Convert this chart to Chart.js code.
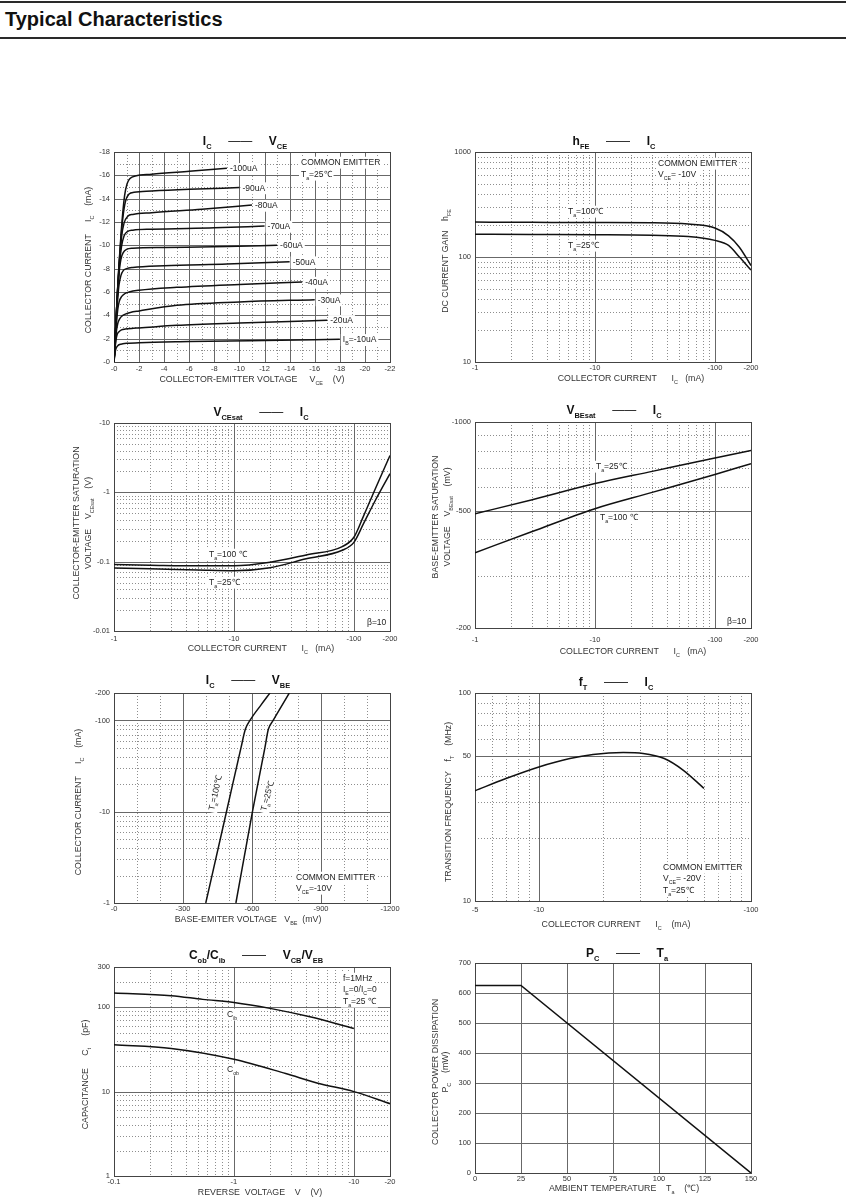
<!DOCTYPE html>
<html>
<head>
<meta charset="utf-8">
<script src="https://cdn.jsdelivr.net/npm/chart.js@4.4.1/dist/chart.umd.min.js"></script>
<style>
  body { margin: 0; background: #fff; width: 846px; height: 1200px; position: relative; overflow: hidden;
         font-family: "Liberation Sans", Arial, sans-serif; }
  .rule { position: absolute; left: 0; width: 846px; height: 2px; background: #2a2a2a; }
  #head { position: absolute; left: 5px; top: 7px; font-weight: bold; font-size: 20px; line-height: 24px; color: #111; }
  .cell { position: absolute; }
</style>
</head>
<body>
<div class="rule" style="top:1px"></div>
<div id="head">Typical Characteristics</div>
<div class="rule" style="top:37px"></div>
<script>
// ---- data (magnitudes; axes print the minus sign) ----

// IC - VCE, one curve per base current
const ibNames = ['-100uA', '-90uA', '-80uA', '-70uA', '-60uA', '-50uA', '-40uA', '-30uA', '-20uA', 'I_{B}=-10uA'];
const vceV = [
  [0, 0.1, 0.2, 0.3, 0.4, 0.55, 0.7, 0.85, 1.05, 1.3, 1.7, 3, 6, 9],
  [0, 0.1, 0.2, 0.3, 0.4, 0.55, 0.7, 0.9, 1.2, 1.6, 3, 6, 10],
  [0, 0.1, 0.2, 0.3, 0.45, 0.6, 0.8, 1.1, 1.5, 3, 7, 11],
  [0, 0.1, 0.2, 0.3, 0.45, 0.6, 0.8, 1.1, 1.5, 3, 8, 12],
  [0, 0.1, 0.2, 0.3, 0.42, 0.55, 0.75, 1.0, 1.5, 4, 9, 13],
  [0, 0.1, 0.2, 0.3, 0.4, 0.55, 0.75, 1.0, 1.5, 4, 9, 14],
  [0, 0.1, 0.2, 0.3, 0.42, 0.6, 0.85, 1.2, 2, 5, 10, 15],
  [0, 0.1, 0.2, 0.3, 0.45, 0.65, 0.9, 1.3, 2, 5, 10, 16],
  [0, 0.08, 0.16, 0.25, 0.4, 0.6, 0.9, 1.4, 2, 5, 10, 17],
  [0, 0.06, 0.12, 0.2, 0.3, 0.45, 0.7, 1.0, 2, 6, 12, 18]
];
const vceI = [
  [0, 2.2, 4.4, 6.5, 8.4, 10.8, 12.8, 14.3, 15.3, 15.75, 15.95, 16.1, 16.35, 16.6],
  [0, 2.2, 4.4, 6.5, 8.3, 10.5, 12.3, 13.7, 14.4, 14.55, 14.65, 14.8, 14.95],
  [0, 2.2, 4.4, 6.4, 8.8, 10.7, 11.9, 12.5, 12.65, 12.8, 13.1, 13.45],
  [0, 2.2, 4.3, 6.3, 8.5, 9.9, 10.8, 11.2, 11.3, 11.38, 11.5, 11.65],
  [0, 2.1, 4.2, 6.0, 7.8, 8.8, 9.4, 9.65, 9.75, 9.82, 9.9, 10.0],
  [0, 2.0, 3.9, 5.5, 6.6, 7.4, 7.85, 8.0, 8.1, 8.25, 8.4, 8.6],
  [0, 1.8, 3.4, 4.5, 5.2, 5.6, 5.85, 6.0, 6.15, 6.4, 6.65, 6.85],
  [0, 1.5, 2.7, 3.3, 3.7, 3.95, 4.1, 4.25, 4.38, 4.86, 5.15, 5.34],
  [0, 1.1, 1.9, 2.35, 2.6, 2.75, 2.82, 2.88, 2.92, 3.14, 3.34, 3.57],
  [0, 0.6, 1.0, 1.25, 1.4, 1.5, 1.56, 1.6, 1.66, 1.75, 1.85, 1.94]
];

// hFE - IC
const hfeIc = [1, 3, 10, 30, 60, 100, 130, 160, 200];
const hfe100 = [215, 214, 213, 212, 206, 189, 159, 124, 83];
const hfe25 = [165, 164, 163, 161, 157, 144, 129, 100, 75];

// VCEsat - IC (V)
const satIc = [1, 2, 5, 10, 20, 40, 80, 100, 120, 150, 200];
const vceSat100 = [0.091, 0.089, 0.087, 0.087, 0.098, 0.125, 0.165, 0.225, 0.45, 1.1, 3.4];
const vceSat25 = [0.081, 0.079, 0.076, 0.074, 0.082, 0.110, 0.146, 0.19, 0.35, 0.75, 1.86];

// VBEsat - IC (mV)
const vbeIc = [1, 3, 10, 30, 100, 200];
const vbeSat25 = [488, 545, 618, 680, 755, 800];
const vbeSat100 = [360, 425, 508, 577, 664, 722];

// IC - VBE
const onIc = [1, 10, 50, 80, 100, 150, 200];
const onVbe100 = [399, 489, 552, 571, 591, 641, 678];
const onVbe25 = [530, 602, 656, 671, 692, 733, 762];

// fT - IC
const ftIc = [5, 7, 10, 14, 18, 25, 31, 39, 48, 60];
const ftMhz = [33.9, 38.8, 44.1, 48.4, 50.6, 51.7, 51.2, 48.4, 42.5, 34.8];

// Cib / Cob - reverse voltage
const cibV = [0.1, 0.3, 0.55, 1, 2, 4.3, 10];
const cibPf = [148, 137, 124, 114, 97, 77, 56];
const cobV = [0.1, 0.3, 1, 2.7, 5, 10, 20];
const cobPf = [36, 32.5, 24.2, 16.4, 12.6, 10, 7.2];

// PC - Ta derating
const pcTa = [0, 25, 150];
const pcMw = [625, 625, 0];

// tick labels
const vceTicks = [0, 2, 4, 6, 8, 10, 12, 14, 16, 18, 20, 22];
const ic1Ticks = [0, 2, 4, 6, 8, 10, 12, 14, 16, 18];
const icLogTicks = [1, 10, 100, 200];
const hfeTicks = [10, 100, 1000];
const vceSatTicks = [0.01, 0.1, 1, 10];
const vbeSatTicks = [200, 500, 1000];
const vbeTicks = [0, 300, 600, 900, 1200];
const ftIcTicks = [5, 10, 100];
const ftTicks = [10, 50, 100];
const vrTicks = [0.1, 1, 10, 20];
const capTicks = [1, 10, 100, 300];
const taTicks = [0, 25, 50, 75, 100, 125, 150];
const pcTicks = [0, 100, 200, 300, 400, 500, 600, 700];

// ---- drawing ----
const FONT = '"Liberation Sans", Arial, sans-serif';
const PL = 62, PT = 28, PR = 30, PB = 40;
const extras = {};

// split "I_{C} —— V_{CE}" into [text, isSub] pieces, dash runs kept apart
function parse(s) {
  const out = [];
  const plain = t => t.split(/(\s*—+\s*)/).forEach(p => { if (p) out.push([p, 0]); });
  const re = /_\{([^}]*)\}/g;
  let last = 0, m;
  while ((m = re.exec(s))) {
    if (m.index > last) plain(s.slice(last, m.index));
    out.push([m[1], 1]);
    last = re.lastIndex;
  }
  if (last < s.length) plain(s.slice(last));
  return out;
}

// text with subscripts, x/y is the anchor (vertical middle)
function rich(ctx, s, x, y, o) {
  const size = o.size || 8.5, subSize = size * 0.62;
  const segs = parse(s);
  const fontOf = (sub, t) => (o.bold && !/—/.test(t) ? 'bold ' : '') + (sub ? subSize : size) + 'px ' + FONT;
  let total = 0;
  const widths = segs.map(([t, sub]) => {
    ctx.font = fontOf(sub, t);
    const w = ctx.measureText(t).width;
    total += w;
    return w;
  });
  ctx.save();
  ctx.translate(x, y);
  if (o.rot) ctx.rotate(o.rot * Math.PI / 180);
  let cx = o.align === 'left' ? 0 : -total / 2;
  if (o.bg) {
    ctx.fillStyle = '#fff';
    ctx.fillRect(cx - 2, -size * 0.62, total + 4, size * 1.4);
  }
  ctx.fillStyle = o.color || '#222';
  ctx.textAlign = 'left';
  ctx.textBaseline = 'alphabetic';
  const base = size * 0.36;
  segs.forEach(([t, sub], i) => {
    ctx.font = fontOf(sub, t);
    ctx.fillText(t, cx, base + (sub ? size * 0.32 : 0));
    cx += widths[i];
  });
  ctx.restore();
}

const sheet = {
  id: 'sheet',
  beforeDatasetsDraw(chart) {
    const ex = extras[chart.canvas.id];
    const { ctx, chartArea: a } = chart;
    const sx = chart.scales.x, sy = chart.scales.y;
    ctx.save();
    const vline = v => {
      const p = Math.round(sx.getPixelForValue(v)) + 0.5;
      ctx.beginPath(); ctx.moveTo(p, a.top); ctx.lineTo(p, a.bottom); ctx.stroke();
    };
    const hline = v => {
      const p = Math.round(sy.getPixelForValue(v)) + 0.5;
      ctx.beginPath(); ctx.moveTo(a.left, p); ctx.lineTo(a.right, p); ctx.stroke();
    };
    ctx.lineWidth = 1;
    ctx.strokeStyle = '#8e8e8e';
    ctx.setLineDash([1, 2]);
    (ex.xMin || []).forEach(vline);
    (ex.yMin || []).forEach(hline);
    ctx.setLineDash([]);
    ctx.strokeStyle = '#686868';
    ex.xMaj.forEach(vline);
    ex.yMaj.forEach(hline);
    ctx.strokeStyle = '#444';
    ctx.strokeRect(Math.round(a.left) + 0.5, Math.round(a.top) + 0.5, Math.round(a.width), Math.round(a.height));

    // notes inside the plot
    (ex.notes || []).forEach(n => {
      rich(ctx, n.t, a.left + n.dx, a.top + n.dy,
        { size: 8.5, align: n.rot ? 'center' : 'left', rot: n.rot, bg: true });
    });
    // labels at curve ends
    if (ex.endLabels) {
      chart.data.datasets.forEach((ds, i) => {
        const pts = chart.getDatasetMeta(i).data;
        const p = pts[pts.length - 1];
        rich(ctx, ds.label, p.x + 3, p.y, { size: 8.5, align: 'left', bg: true });
      });
    }
    // title and axis titles
    const cx = (a.left + a.right) / 2, cy = (a.top + a.bottom) / 2;
    rich(ctx, ex.title, cx + ex.tdx, a.top + ex.tdy, { size: 12, bold: true, color: '#111' });
    rich(ctx, ex.xTitle, cx + ex.xdx, a.bottom + ex.xdy, { size: 8.8, color: '#333' });
    ex.yTitle.forEach((t, i) => {
      rich(ctx, t, a.left + ex.ydx[i], cy + ex.ydy, { size: 8.8, color: '#333', rot: -90 });
    });
    ctx.restore();
  }
};

function line(xs, ys, extra) {
  return Object.assign({
    data: xs.map((x, i) => ({ x, y: ys[i] })),
    borderColor: '#111',
    borderWidth: 1.5,
    pointRadius: 0,
    cubicInterpolationMode: 'monotone',
    fill: false
  }, extra);
}

function sheetChart(id, box, sx, sy, datasets, ex) {
  const wrap = document.createElement('div');
  wrap.className = 'cell';
  wrap.style.left = (box[0] - PL) + 'px';
  wrap.style.top = (box[1] - PT) + 'px';
  wrap.style.width = (box[2] - box[0] + PL + PR) + 'px';
  wrap.style.height = (box[3] - box[1] + PT + PB) + 'px';
  const cv = document.createElement('canvas');
  cv.id = id;
  wrap.appendChild(cv);
  document.body.appendChild(wrap);
  extras[id] = ex;

  const axis = (s, isX) => ({
    type: s.type, min: s.min, max: s.max,
    afterBuildTicks: sc => { sc.ticks = s.ticks.map(v => ({ value: v })); },
    afterFit: sc => { if (isX) sc.height = PB; else sc.width = PL; },
    grid: { display: false, drawTicks: false },
    border: { display: false },
    ticks: {
      autoSkip: false, maxRotation: 0, minRotation: 0,
      padding: isX ? s.pad : 4,
      color: '#333',
      font: { family: FONT, size: 7.5 },
      callback: v => (s.neg ? '-' : '') + v
    }
  });

  return new Chart(cv, {
    type: 'line',
    data: { datasets },
    options: {
      responsive: true,
      maintainAspectRatio: false,
      animation: false,
      layout: { autoPadding: false, padding: { top: PT, right: PR, left: 0, bottom: 0 } },
      plugins: { legend: { display: false }, tooltip: { enabled: false } },
      scales: { x: axis(sx, true), y: axis(sy, false) }
    },
    plugins: [sheet]
  });
}

const dec2 = [2, 3, 4, 5, 6, 7, 8, 9, 20, 30, 40, 50, 60, 70, 80, 90];

// 1. IC - VCE
sheetChart('c1', [114, 152, 390, 362],
  { type: 'linear', min: 0, max: 22, ticks: vceTicks, neg: true, pad: 2.5 },
  { type: 'linear', min: 0, max: 18, ticks: ic1Ticks, neg: true },
  vceV.map((v, i) => line(v, vceI[i], { label: ibNames[i] })),
  {
    xMaj: [2, 4, 6, 8, 10, 12, 14, 16, 18, 20], xMin: [1, 3, 5, 7, 9, 11, 13, 15, 17, 19, 21],
    yMaj: [2, 4, 6, 8, 10, 12, 14, 16], yMin: [1, 3, 5, 7, 9, 11, 13, 15, 17],
    title: 'I_{C}     ——     V_{CE}', tdx: -7, tdy: -11,
    xTitle: 'COLLECTOR-EMITTER VOLTAGE     V_{CE}    (V)', xdx: 0, xdy: 17,
    yTitle: ['COLLECTOR CURRENT     I_{C}    (mA)'], ydx: [-26], ydy: 3,
    endLabels: true,
    notes: [
      { t: 'COMMON EMITTER', dx: 187, dy: 10 },
      { t: 'T_{a}=25℃', dx: 187, dy: 22 }
    ]
  });

// 2. hFE - IC
sheetChart('c2', [475, 152, 751, 362],
  { type: 'logarithmic', min: 1, max: 200, ticks: icLogTicks, neg: true, pad: 1.5 },
  { type: 'logarithmic', min: 10, max: 1000, ticks: hfeTicks },
  [line(hfeIc, hfe100), line(hfeIc, hfe25)],
  {
    xMaj: [10, 100], xMin: dec2,
    yMaj: [100], yMin: [20, 30, 40, 50, 60, 70, 80, 90, 200, 300, 400, 500, 600, 700, 800, 900],
    title: 'h_{FE}     ——     I_{C}', tdx: 1, tdy: -11,
    xTitle: 'COLLECTOR CURRENT      I_{C}   (mA)', xdx: 18, xdy: 16,
    yTitle: ['DC CURRENT GAIN    h_{FE}'], ydx: [-30], ydy: 4,
    notes: [
      { t: 'T_{a}=100℃', dx: 93, dy: 59 },
      { t: 'T_{a}=25℃', dx: 93, dy: 93 },
      { t: 'COMMON EMITTER', dx: 183, dy: 11 },
      { t: 'V_{CE}= -10V', dx: 183, dy: 22 }
    ]
  });

// 3. VCEsat - IC
sheetChart('c3', [114, 423, 390, 631],
  { type: 'logarithmic', min: 1, max: 200, ticks: icLogTicks, neg: true, pad: 3.5 },
  { type: 'logarithmic', min: 0.01, max: 10, ticks: vceSatTicks, neg: true },
  [line(satIc, vceSat100), line(satIc, vceSat25)],
  {
    xMaj: [10, 100], xMin: dec2,
    yMaj: [0.1, 1],
    yMin: [0.02, 0.03, 0.04, 0.05, 0.06, 0.07, 0.08, 0.09, 0.2, 0.3, 0.4, 0.5, 0.6, 0.7, 0.8, 0.9, 2, 3, 4, 5, 6, 7, 8, 9],
    title: 'V_{CEsat}     ——     I_{C}', tdx: 9, tdy: -11,
    xTitle: 'COLLECTOR CURRENT      I_{C}   (mA)', xdx: 9, xdy: 17,
    yTitle: ['COLLECTOR-EMITTER SATURATION', 'VOLTAGE    V_{CEsat}    (V)'], ydx: [-38, -26], ydy: -4,
    notes: [
      { t: 'T_{a}=100 ℃', dx: 95, dy: 131 },
      { t: 'T_{a}=25℃', dx: 95, dy: 159 },
      { t: 'β=10', dx: 253, dy: 199 }
    ]
  });

// 4. VBEsat - IC
sheetChart('c4', [475, 422, 751, 628],
  { type: 'logarithmic', min: 1, max: 200, ticks: icLogTicks, neg: true, pad: 7.5 },
  { type: 'logarithmic', min: 200, max: 1000, ticks: vbeSatTicks, neg: true },
  [line(vbeIc, vbeSat25), line(vbeIc, vbeSat100)],
  {
    xMaj: [10, 100], xMin: dec2,
    yMaj: [500], yMin: [300, 400, 600, 700, 800, 900],
    title: 'V_{BEsat}     ——     I_{C}', tdx: 1, tdy: -12,
    xTitle: 'COLLECTOR CURRENT      I_{C}   (mA)', xdx: 20, xdy: 23,
    yTitle: ['BASE-EMITTER SATURATION', 'VOLTAGE    V_{BEsat}    (mV)'], ydx: [-40, -28], ydy: -8,
    notes: [
      { t: 'T_{a}=25℃', dx: 121, dy: 44 },
      { t: 'T_{a}=100 ℃', dx: 125, dy: 95 },
      { t: 'β=10', dx: 252, dy: 199 }
    ]
  });

// 5. IC - VBE
sheetChart('c5', [114, 693, 390, 903],
  { type: 'linear', min: 0, max: 1200, ticks: vbeTicks, neg: true, pad: 1.5 },
  { type: 'logarithmic', min: 1, max: 200, ticks: icLogTicks, neg: true },
  [line(onVbe100, onIc), line(onVbe25, onIc)],
  {
    xMaj: [300, 600, 900], xMin: [100, 200, 400, 500, 700, 800, 1000, 1100],
    yMaj: [10, 100], yMin: dec2,
    title: 'I_{C}     ——     V_{BE}', tdx: -4, tdy: -13,
    xTitle: 'BASE-EMITER VOLTAGE   V_{BE}  (mV)', xdx: -4, xdy: 16,
    yTitle: ['COLLECTOR CURRENT     I_{C}    (mA)'], ydx: [-36], ydy: 4,
    notes: [
      { t: 'T_{a}=100℃', dx: 101, dy: 100, rot: -77 },
      { t: 'T_{a}=25℃', dx: 153, dy: 103, rot: -75 },
      { t: 'COMMON EMITTER', dx: 182, dy: 184 },
      { t: 'V_{CE}=-10V', dx: 182, dy: 195 }
    ]
  });

// 6. fT - IC
sheetChart('c6', [475, 693, 751, 901],
  { type: 'logarithmic', min: 5, max: 100, ticks: ftIcTicks, neg: true, pad: 4.5 },
  { type: 'logarithmic', min: 10, max: 100, ticks: ftTicks },
  [line(ftIc, ftMhz)],
  {
    xMaj: [10], xMin: [6, 7, 8, 9, 20, 30, 40, 50, 60, 70, 80, 90],
    yMaj: [50], yMin: [20, 30, 40, 60, 70, 80, 90],
    title: 'f_{T}     ——     I_{C}', tdx: 3, tdy: -11,
    xTitle: 'COLLECTOR CURRENT      I_{C}    (mA)', xdx: 3, xdy: 23,
    yTitle: ['TRANSITION FREQUENCY    f_{T}    (MHz)'], ydx: [-27], ydy: 5,
    notes: [
      { t: 'COMMON EMITTER', dx: 188, dy: 174 },
      { t: 'V_{CE}= -20V', dx: 188, dy: 185 },
      { t: 'T_{a}=25℃', dx: 188, dy: 197 }
    ]
  });

// 7. Cob/Cib - VCB/VEB
sheetChart('c7', [114, 967, 390, 1176],
  { type: 'logarithmic', min: 0.1, max: 20, ticks: vrTicks, neg: true, pad: 1 },
  { type: 'logarithmic', min: 1, max: 300, ticks: capTicks },
  [line(cibV, cibPf), line(cobV, cobPf)],
  {
    xMaj: [1, 10], xMin: [0.2, 0.3, 0.4, 0.5, 0.6, 0.7, 0.8, 0.9, 2, 3, 4, 5, 6, 7, 8, 9],
    yMaj: [10, 100], yMin: [2, 3, 4, 5, 6, 7, 8, 9, 20, 30, 40, 50, 60, 70, 80, 90, 200],
    title: 'C_{ob}/C_{ib}     ——     V_{CB}/V_{EB}', tdx: 4, tdy: -12,
    xTitle: 'REVERSE  VOLTAGE    V    (V)', xdx: 8, xdy: 16,
    yTitle: ['CAPACITANCE     C_{t}     (pF)'], ydx: [-29], ydy: 3,
    notes: [
      { t: 'C_{ib}', dx: 113, dy: 47 },
      { t: 'C_{ob}', dx: 113, dy: 102 },
      { t: 'f=1MHz', dx: 229, dy: 11 },
      { t: 'I_{E}=0/I_{C}=0', dx: 229, dy: 22 },
      { t: 'T_{a}=25 ℃', dx: 229, dy: 34 }
    ]
  });

// 8. PC - Ta
sheetChart('c8', [475, 963, 751, 1173],
  { type: 'linear', min: 0, max: 150, ticks: taTicks, pad: 1.5 },
  { type: 'linear', min: 0, max: 700, ticks: pcTicks },
  [line(pcTa, pcMw, { cubicInterpolationMode: 'default', tension: 0 })],
  {
    xMaj: [25, 50, 75, 100, 125], yMaj: [100, 200, 300, 400, 500, 600],
    title: 'P_{C}     ——     T_{a}', tdx: 14, tdy: -10,
    xTitle: 'AMBIENT TEMPERATURE    T_{a}    (℃)', xdx: 11, xdy: 15,
    yTitle: ['COLLECTOR POWER DISSIPATION', 'P_{C}    (mW)'], ydx: [-40, -30], ydy: 4
  });
</script>
</body>
</html>
